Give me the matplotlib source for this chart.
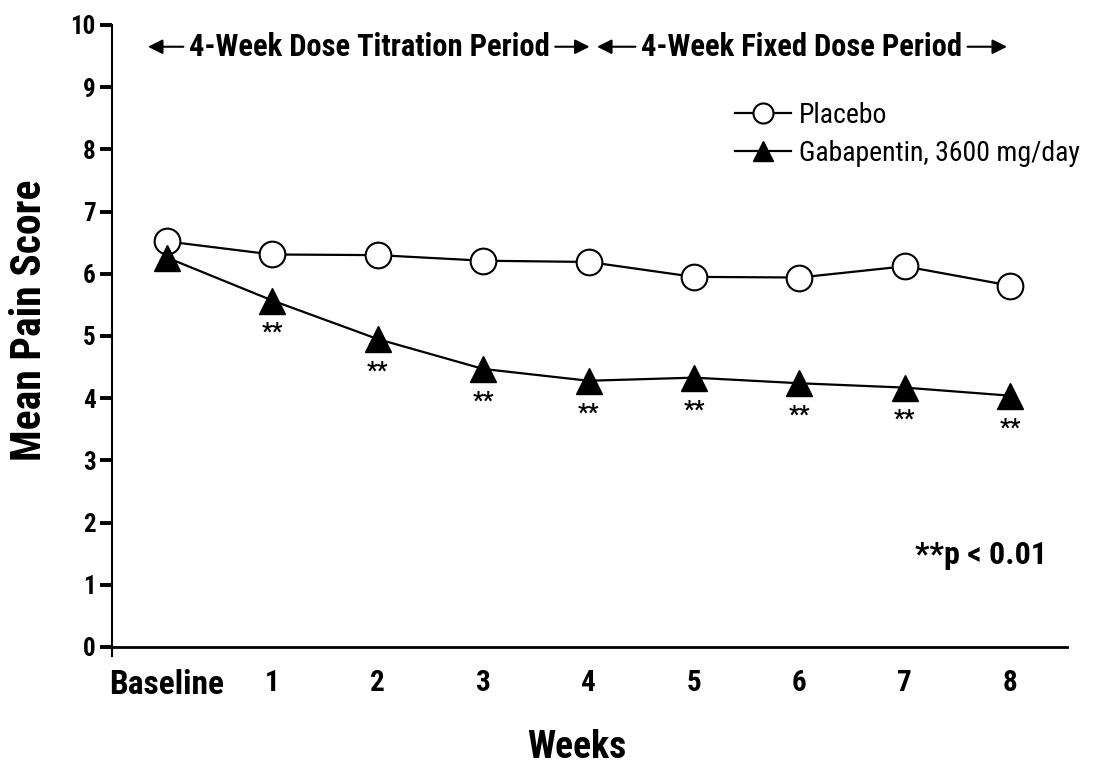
import numpy as np
import matplotlib
matplotlib.use('Agg')
import matplotlib.pyplot as plt
from matplotlib import font_manager as fm

# Data
weeks = ['Baseline', '1', '2', '3', '4', '5', '6', '7', '8']
placebo = [6.52, 6.31, 6.30, 6.21, 6.19, 5.95, 5.94, 6.12, 5.81]
gabapentin = [6.26, 5.57, 4.95, 4.47, 4.28, 4.33, 4.24, 4.17, 4.04]
signif = ['', '**', '**', '**', '**', '**', '**', '**', '**']
yticks = list(range(0, 11))


def pick_font(cands):
    # first condensed family that has a bold face
    avail = {}
    for f in fm.fontManager.ttflist:
        w = f.weight if isinstance(f.weight, int) else (700 if 'bold' in str(f.weight) else 400)
        avail.setdefault(f.name, set()).add(w)
    for c in cands:
        if c in avail and max(avail[c]) >= 700:
            return c
    return 'DejaVu Sans'


cond = pick_font(['Roboto Condensed', 'Liberation Sans Narrow', 'Archivo Narrow',
                  'PT Sans Narrow', 'Asap Condensed', 'Saira SemiCondensed'])
plt.rcParams['font.family'] = [cond, 'DejaVu Sans']

x = np.arange(len(weeks))

fig = plt.figure(figsize=(10.99, 7.66), dpi=100)
ax = fig.add_axes([0.102, 0.1432, 0.869, 0.8242])

ax.plot(x, placebo, color='black', lw=1.6, marker='o', ms=18.5,
        mfc='white', mec='black', mew=1.5, label='Placebo', zorder=3)
ax.plot(x, gabapentin, color='black', lw=1.6, marker='^', ms=19,
        mfc='black', mec='black', label='Gabapentin, 3600 mg/day', zorder=4)

# significance stars under the triangles
for xi, yi, s in zip(x, gabapentin, signif):
    if s:
        ax.annotate(s, (xi, yi), xytext=(0, -23), textcoords='offset points',
                    ha='center', va='center', fontsize=17, fontweight='bold')

ax.set_xlim(-0.52, 8.54)
ax.set_ylim(-0.15, 10)
ax.spines['bottom'].set_position(('data', 0))
ax.set_xticks(x)
ax.set_xticklabels(weeks, fontsize=21, fontweight='bold')
ax.get_xticklabels()[0].set_fontsize(24)
ax.set_yticks(yticks)
ax.set_yticklabels([str(t) for t in yticks], fontsize=18, fontweight='bold')
ax.tick_params(axis='x', length=0, pad=16)
ax.tick_params(axis='y', length=9, width=2.8, pad=3)

for side in ['top', 'right']:
    ax.spines[side].set_visible(False)
ax.spines['left'].set_linewidth(1.5)
ax.spines['bottom'].set_linewidth(2)

ax.set_xlabel('Weeks', fontsize=27, fontweight='bold')
ax.xaxis.set_label_coords(0.487, -0.145)
ax.xaxis.label.set_va('center')
ax.set_ylabel('Mean Pain Score', fontsize=30, fontweight='bold')
ax.yaxis.set_label_coords(-0.086, 0.533)
ax.yaxis.label.set_va('center')

# period annotations along the top
ytop = 9.65
periods = [('4-Week Dose Titration Period', 1.92, -0.18, 4.01),
           ('4-Week Fixed Dose Period', 6.02, 4.08, 7.97)]
for label, xc, x_left, x_right in periods:
    ax.annotate(label, xy=(x_left, ytop), xytext=(xc, ytop), ha='center', va='center',
                fontsize=22, fontweight='bold',
                arrowprops=dict(arrowstyle='-|>', color='black', lw=1.5,
                                mutation_scale=22, relpos=(0, 0.5), shrinkA=2, shrinkB=0))
    ax.annotate(label, xy=(x_right, ytop), xytext=(xc, ytop), ha='center', va='center',
                fontsize=22, fontweight='bold', color='none',
                arrowprops=dict(arrowstyle='-|>', color='black', lw=1.5,
                                mutation_scale=22, relpos=(1, 0.5), shrinkA=2, shrinkB=0))

ax.text(8.35, 1.48, '**p < 0.01', ha='right', va='center',
        fontsize=23, fontweight='bold')

ax.legend(loc='upper left', bbox_to_anchor=(0.669, 0.867),
          bbox_transform=fig.transFigure, frameon=False,
          borderpad=0, borderaxespad=0,
          prop=dict(family=[cond, 'DejaVu Sans'], size=20),
          handlelength=2.0, handletextpad=0.3,
          labelspacing=0.4, markerscale=0.78)

fig.savefig('out.png', dpi=100)
